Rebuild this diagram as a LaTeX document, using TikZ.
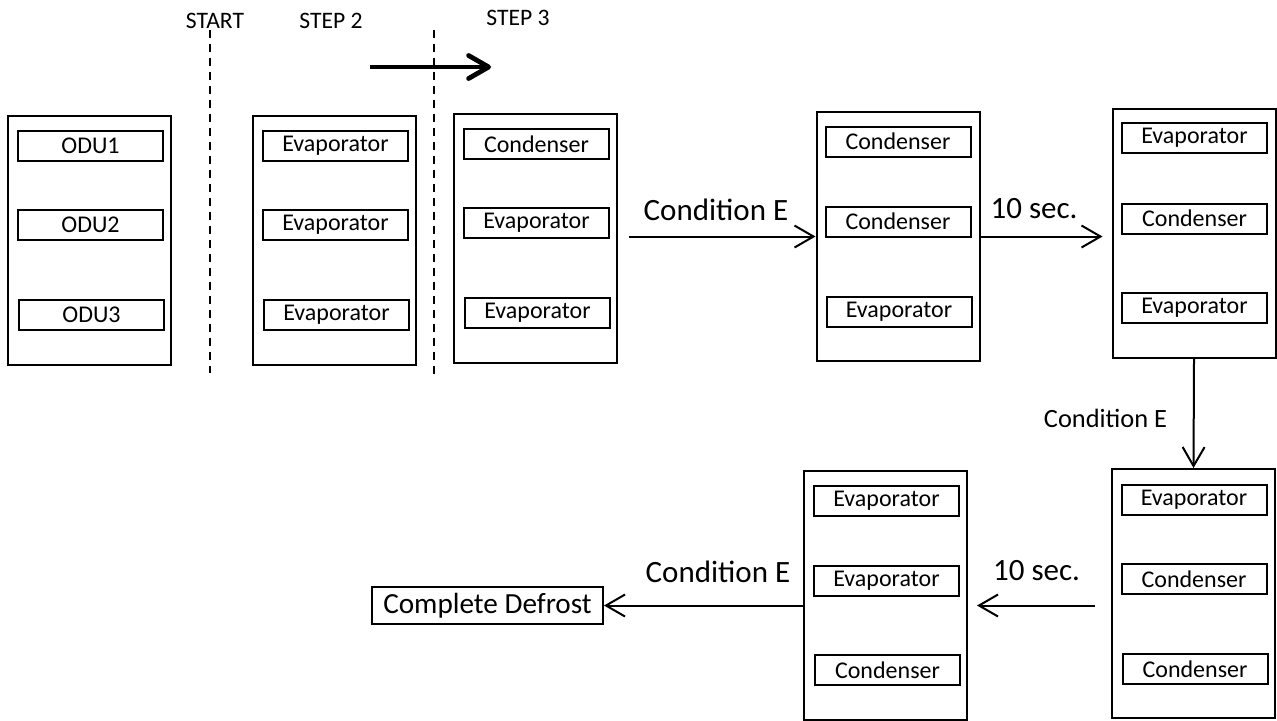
\documentclass[tikz,border=0pt]{standalone}
\usepackage{fontspec}
\setmainfont{Carlito}
\usetikzlibrary{arrows.meta}
\begin{document}
\begin{tikzpicture}[x=0.5pt,y=-0.5pt,
  outerbox/.style={draw, line width=1pt, minimum width=81.5pt, minimum height=124.5pt, inner sep=0pt},
  unitbox/.style={draw, line width=1pt, minimum width=72.5pt, minimum height=15pt, inner sep=0pt, font=\fontsize{12}{14}\selectfont},
  arr/.style={line width=1pt, -{Straight Barb[length=9.5pt,width=11pt]}},
  bigarrow/.style={line width=2.4pt, -{Straight Barb[length=10pt,width=11.5pt,round]}},
  divider/.style={dash pattern=on 4pt off 3pt, line width=1pt},
  biglabel/.style={font=\fontsize{15.5}{18}\selectfont, anchor=base, inner sep=0pt},
  midlabel/.style={font=\fontsize{13.2}{16}\selectfont, anchor=base, inner sep=0pt},
  steplabel/.style={font=\fontsize{11.8}{14}\selectfont, anchor=base, inner sep=0pt},
  endbox/.style={draw, line width=1pt, minimum width=115.5pt, minimum height=18.5pt, inner sep=0pt, font=\fontsize{14.6}{17}\selectfont}
]
\useasboundingbox (0,0) rectangle (1277,720);

% step labels and dividers
\node[steplabel] (lstart) at (215,28) {START};
\node[steplabel] (lstep2) at (331,28) {STEP 2};
\node[steplabel] (lstep3) at (518,25) {STEP 3};
\coordinate (d1t) at (210,30);
\coordinate (d1b) at (210,373);
\coordinate (d2t) at (434,30);
\coordinate (d2b) at (434,375);
\draw[divider] (d1t) -- (d1b);
\draw[divider] (d2t) -- (d2b);
\coordinate (ta) at (370,67);
\coordinate (tb) at (491,67);
\draw[bigarrow] (ta) -- (tb);

% box 1
\node[outerbox] (b1) at (89.5,240) {};
\node[unitbox] (b1a) at (90.5,146) {ODU1};
\node[unitbox] (b1b) at (90.5,225) {ODU2};
\node[unitbox] (b1c) at (91.5,315) {ODU3};

% box 2
\node[outerbox] (b2) at (334.5,240) {};
\node[unitbox] (b2a) at (335.5,146) {Evaporator};
\node[unitbox] (b2b) at (335.5,225) {Evaporator};
\node[unitbox] (b2c) at (336.5,315) {Evaporator};

% box 3
\node[outerbox] (b3) at (535.5,238) {};
\node[unitbox] (b3a) at (536.5,144) {Condenser};
\node[unitbox] (b3b) at (536.5,223) {Evaporator};
\node[unitbox] (b3c) at (537.5,313) {Evaporator};

% box 4
\node[outerbox] (b4) at (898,236.5) {};
\node[unitbox] (b4a) at (898,141.5) {Condenser};
\node[unitbox] (b4b) at (898,221.5) {Condenser};
\node[unitbox] (b4c) at (899,311.5) {Evaporator};

% box 5
\node[outerbox] (b5) at (1194,233) {};
\node[unitbox] (b5a) at (1194.5,138) {Evaporator};
\node[unitbox] (b5b) at (1194.5,218.5) {Condenser};
\node[unitbox] (b5c) at (1194.5,308) {Evaporator};

% box 6
\node[outerbox] (b6) at (1193.5,593.5) {};
\node[unitbox] (b6a) at (1194,499.5) {Evaporator};
\node[unitbox] (b6b) at (1194,579) {Condenser};
\node[unitbox] (b6c) at (1195,669) {Condenser};

% box 7
\node[outerbox] (b7) at (885.5,595) {};
\node[unitbox] (b7a) at (886.5,500.5) {Evaporator};
\node[unitbox] (b7b) at (886.5,581) {Evaporator};
\node[unitbox] (b7c) at (887.5,670) {Condenser};

% final
\node[endbox] (cd) at (487.5,605.5) {Complete Defrost};

% connectors
\draw[arr, shorten <=5.5pt] (b3.east |- b4) -- (b4.west);
\node[biglabel] (l1) at (716,220) {Condition E};
\draw[arr, shorten >=4.5pt] (b4.east) -- (b4.east -| b5.west);
\node[biglabel] (l2) at (1034,218) {10 sec.};
\draw[arr] (b5.south) -- (b6.north);
\node[midlabel] (l3) at (1105.5,427) {Condition E};
\draw[arr, shorten <=8pt, shorten >=4.5pt] (b6.west |- cd) -- (b7.east |- cd);
\node[biglabel] (l4) at (1036.5,580) {10 sec.};
\draw[arr] (b7.west |- cd) -- (cd.east);
\node[biglabel] (l5) at (718,582) {Condition E};
\end{tikzpicture}
\end{document}
